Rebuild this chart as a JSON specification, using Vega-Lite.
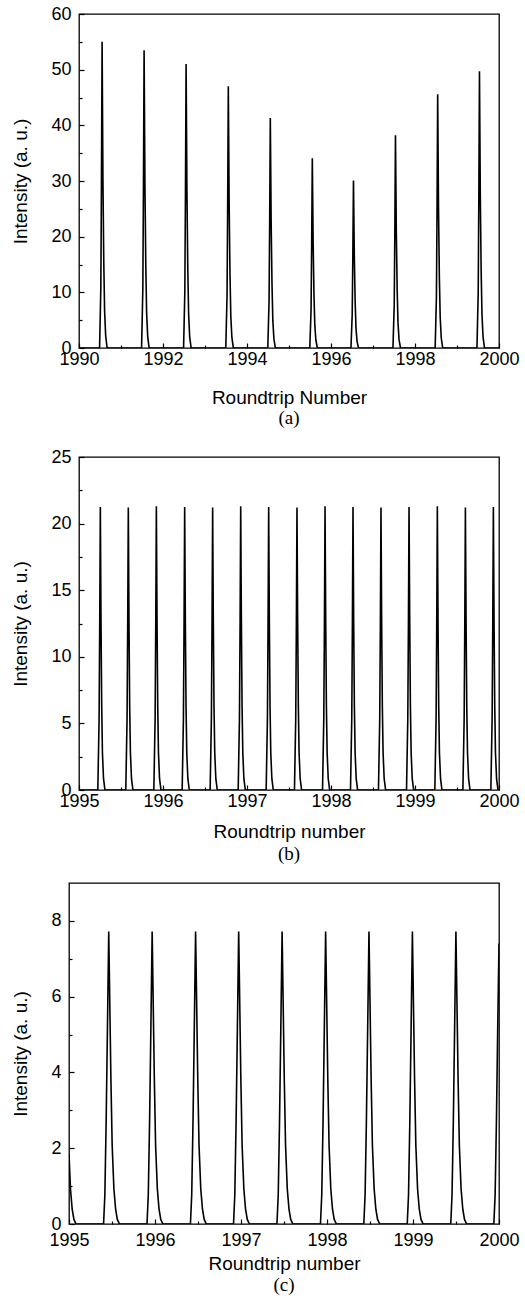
{
  "$schema": "https://vega.github.io/schema/vega-lite/v6.json",
  "padding": {"left": 10, "top": 4, "right": 5, "bottom": 2},
  "background": "white",
  "config": {
    "view": {"stroke": "black", "strokeWidth": 1.3},
    "axis": {
      "grid": false, "domain": false, "tickColor": "black", "tickWidth": 1.2,
      "labelFont": "Liberation Sans", "labelFontSize": 18, "labelColor": "black",
      "titleFont": "Liberation Sans", "titleFontSize": 19, "titleFontWeight": "normal", "titleColor": "black",
      "labelFlush": false, "labelOverlap": false, "format": "d"
    },
    "title": {"font": "Liberation Serif", "fontSize": 19, "fontWeight": "normal", "color": "black", "orient": "bottom", "anchor": "middle"}
  },
  "spacing": 12,
  "datasets": {
    "a": [
      {"x":1990,"y":0},
      {"x":1990.49,"y":0},{"x":1990.52,"y":11},{"x":1990.535,"y":30.25},{"x":1990.55,"y":55},{"x":1990.57,"y":30.25},{"x":1990.59,"y":15.4},{"x":1990.61,"y":6.6},{"x":1990.635,"y":2.2},{"x":1990.67,"y":0},
      {"x":1991.49,"y":0},{"x":1991.52,"y":10.7},{"x":1991.535,"y":29.4},{"x":1991.55,"y":53.5},{"x":1991.57,"y":29.4},{"x":1991.59,"y":15},{"x":1991.61,"y":6.4},{"x":1991.635,"y":2.1},{"x":1991.67,"y":0},
      {"x":1992.49,"y":0},{"x":1992.52,"y":10.2},{"x":1992.535,"y":28.1},{"x":1992.55,"y":51},{"x":1992.57,"y":28.1},{"x":1992.59,"y":14.3},{"x":1992.61,"y":6.1},{"x":1992.635,"y":2},{"x":1992.67,"y":0},
      {"x":1993.495,"y":0},{"x":1993.525,"y":9.4},{"x":1993.54,"y":25.9},{"x":1993.555,"y":47},{"x":1993.575,"y":25.9},{"x":1993.595,"y":13.2},{"x":1993.615,"y":5.6},{"x":1993.64,"y":1.9},{"x":1993.675,"y":0},
      {"x":1994.495,"y":0},{"x":1994.525,"y":8.3},{"x":1994.54,"y":22.7},{"x":1994.555,"y":41.3},{"x":1994.575,"y":22.7},{"x":1994.595,"y":11.6},{"x":1994.615,"y":5},{"x":1994.64,"y":1.7},{"x":1994.675,"y":0},
      {"x":1995.495,"y":0},{"x":1995.525,"y":6.8},{"x":1995.54,"y":18.8},{"x":1995.555,"y":34.1},{"x":1995.575,"y":18.8},{"x":1995.595,"y":9.5},{"x":1995.615,"y":4.1},{"x":1995.64,"y":1.4},{"x":1995.675,"y":0},
      {"x":1996.475,"y":0},{"x":1996.505,"y":6},{"x":1996.52,"y":16.6},{"x":1996.535,"y":30.1},{"x":1996.555,"y":16.6},{"x":1996.575,"y":8.4},{"x":1996.595,"y":3.6},{"x":1996.62,"y":1.2},{"x":1996.655,"y":0},
      {"x":1997.475,"y":0},{"x":1997.505,"y":7.6},{"x":1997.52,"y":21},{"x":1997.535,"y":38.2},{"x":1997.555,"y":21},{"x":1997.575,"y":10.7},{"x":1997.595,"y":4.6},{"x":1997.62,"y":1.5},{"x":1997.655,"y":0},
      {"x":1998.48,"y":0},{"x":1998.51,"y":9.1},{"x":1998.525,"y":25.1},{"x":1998.54,"y":45.6},{"x":1998.56,"y":25.1},{"x":1998.58,"y":12.8},{"x":1998.6,"y":5.5},{"x":1998.625,"y":1.8},{"x":1998.66,"y":0},
      {"x":1999.475,"y":0},{"x":1999.505,"y":9.9},{"x":1999.52,"y":27.3},{"x":1999.535,"y":49.7},{"x":1999.555,"y":27.3},{"x":1999.575,"y":13.9},{"x":1999.595,"y":6},{"x":1999.62,"y":2},{"x":1999.655,"y":0},
      {"x":2000,"y":0}
    ],
    "b": [
      {"x":1995,"y":0},
      {"x":1995.224,"y":0},{"x":1995.239,"y":5.3},{"x":1995.247,"y":12.75},{"x":1995.254,"y":21.25},{"x":1995.262,"y":12.75},{"x":1995.27,"y":6.4},{"x":1995.279,"y":2.8},{"x":1995.292,"y":0.85},{"x":1995.309,"y":0},
      {"x":1995.557,"y":0},{"x":1995.572,"y":5.3},{"x":1995.58,"y":12.75},{"x":1995.587,"y":21.2},{"x":1995.595,"y":12.75},{"x":1995.603,"y":6.4},{"x":1995.612,"y":2.8},{"x":1995.625,"y":0.85},{"x":1995.642,"y":0},
      {"x":1995.891,"y":0},{"x":1995.906,"y":5.3},{"x":1995.914,"y":12.75},{"x":1995.921,"y":21.3},{"x":1995.929,"y":12.75},{"x":1995.937,"y":6.4},{"x":1995.946,"y":2.8},{"x":1995.959,"y":0.85},{"x":1995.976,"y":0},
      {"x":1996.228,"y":0},{"x":1996.243,"y":5.3},{"x":1996.251,"y":12.75},{"x":1996.258,"y":21.25},{"x":1996.266,"y":12.75},{"x":1996.274,"y":6.4},{"x":1996.283,"y":2.8},{"x":1996.296,"y":0.85},{"x":1996.313,"y":0},
      {"x":1996.561,"y":0},{"x":1996.576,"y":5.3},{"x":1996.584,"y":12.75},{"x":1996.591,"y":21.2},{"x":1996.599,"y":12.75},{"x":1996.607,"y":6.4},{"x":1996.616,"y":2.8},{"x":1996.629,"y":0.85},{"x":1996.646,"y":0},
      {"x":1996.895,"y":0},{"x":1996.91,"y":5.3},{"x":1996.918,"y":12.75},{"x":1996.925,"y":21.3},{"x":1996.933,"y":12.75},{"x":1996.941,"y":6.4},{"x":1996.95,"y":2.8},{"x":1996.963,"y":0.85},{"x":1996.98,"y":0},
      {"x":1997.228,"y":0},{"x":1997.243,"y":5.3},{"x":1997.251,"y":12.75},{"x":1997.258,"y":21.25},{"x":1997.266,"y":12.75},{"x":1997.274,"y":6.4},{"x":1997.283,"y":2.8},{"x":1997.296,"y":0.85},{"x":1997.313,"y":0},
      {"x":1997.565,"y":0},{"x":1997.58,"y":5.3},{"x":1997.588,"y":12.75},{"x":1997.595,"y":21.2},{"x":1997.603,"y":12.75},{"x":1997.611,"y":6.4},{"x":1997.62,"y":2.8},{"x":1997.633,"y":0.85},{"x":1997.65,"y":0},
      {"x":1997.899,"y":0},{"x":1997.914,"y":5.3},{"x":1997.922,"y":12.75},{"x":1997.929,"y":21.3},{"x":1997.937,"y":12.75},{"x":1997.945,"y":6.4},{"x":1997.954,"y":2.8},{"x":1997.967,"y":0.85},{"x":1997.984,"y":0},
      {"x":1998.232,"y":0},{"x":1998.247,"y":5.3},{"x":1998.255,"y":12.75},{"x":1998.262,"y":21.25},{"x":1998.27,"y":12.75},{"x":1998.278,"y":6.4},{"x":1998.287,"y":2.8},{"x":1998.3,"y":0.85},{"x":1998.317,"y":0},
      {"x":1998.565,"y":0},{"x":1998.58,"y":5.3},{"x":1998.588,"y":12.75},{"x":1998.595,"y":21.2},{"x":1998.603,"y":12.75},{"x":1998.611,"y":6.4},{"x":1998.62,"y":2.8},{"x":1998.633,"y":0.85},{"x":1998.65,"y":0},
      {"x":1998.899,"y":0},{"x":1998.914,"y":5.3},{"x":1998.922,"y":12.75},{"x":1998.929,"y":21.25},{"x":1998.937,"y":12.75},{"x":1998.945,"y":6.4},{"x":1998.954,"y":2.8},{"x":1998.967,"y":0.85},{"x":1998.984,"y":0},
      {"x":1999.236,"y":0},{"x":1999.251,"y":5.3},{"x":1999.259,"y":12.75},{"x":1999.266,"y":21.3},{"x":1999.274,"y":12.75},{"x":1999.282,"y":6.4},{"x":1999.291,"y":2.8},{"x":1999.304,"y":0.85},{"x":1999.321,"y":0},
      {"x":1999.57,"y":0},{"x":1999.585,"y":5.3},{"x":1999.593,"y":12.75},{"x":1999.6,"y":21.2},{"x":1999.608,"y":12.75},{"x":1999.616,"y":6.4},{"x":1999.625,"y":2.8},{"x":1999.638,"y":0.85},{"x":1999.655,"y":0},
      {"x":1999.903,"y":0},{"x":1999.918,"y":5.3},{"x":1999.926,"y":12.75},{"x":1999.933,"y":21.25},{"x":1999.941,"y":12.75},{"x":1999.949,"y":6.4},{"x":1999.958,"y":2.8},{"x":1999.971,"y":0.85},{"x":1999.988,"y":0},
      {"x":2000,"y":0}
    ],
    "c": [
      {"x":1995,"y":1.85},{"x":1995.017,"y":0.93},{"x":1995.037,"y":0.39},{"x":1995.057,"y":0.12},{"x":1995.082,"y":0},
      {"x":1995.402,"y":0},{"x":1995.417,"y":0.77},{"x":1995.432,"y":2.7},{"x":1995.447,"y":5.17},{"x":1995.462,"y":7.72},{"x":1995.472,"y":6.18},{"x":1995.487,"y":3.86},{"x":1995.502,"y":2.08},{"x":1995.522,"y":0.93},{"x":1995.542,"y":0.39},{"x":1995.562,"y":0.12},{"x":1995.587,"y":0},
      {"x":1995.907,"y":0},{"x":1995.922,"y":0.77},{"x":1995.937,"y":2.7},{"x":1995.952,"y":5.17},{"x":1995.967,"y":7.72},{"x":1995.977,"y":6.18},{"x":1995.992,"y":3.86},{"x":1996.007,"y":2.08},{"x":1996.027,"y":0.93},{"x":1996.047,"y":0.39},{"x":1996.067,"y":0.12},{"x":1996.092,"y":0},
      {"x":1996.412,"y":0},{"x":1996.427,"y":0.77},{"x":1996.442,"y":2.7},{"x":1996.457,"y":5.17},{"x":1996.472,"y":7.72},{"x":1996.482,"y":6.18},{"x":1996.497,"y":3.86},{"x":1996.512,"y":2.08},{"x":1996.532,"y":0.93},{"x":1996.552,"y":0.39},{"x":1996.572,"y":0.12},{"x":1996.597,"y":0},
      {"x":1996.913,"y":0},{"x":1996.928,"y":0.77},{"x":1996.943,"y":2.7},{"x":1996.958,"y":5.17},{"x":1996.973,"y":7.72},{"x":1996.983,"y":6.18},{"x":1996.998,"y":3.86},{"x":1997.013,"y":2.08},{"x":1997.033,"y":0.93},{"x":1997.053,"y":0.39},{"x":1997.073,"y":0.12},{"x":1997.098,"y":0},
      {"x":1997.418,"y":0},{"x":1997.433,"y":0.77},{"x":1997.448,"y":2.7},{"x":1997.463,"y":5.17},{"x":1997.478,"y":7.72},{"x":1997.488,"y":6.18},{"x":1997.503,"y":3.86},{"x":1997.518,"y":2.08},{"x":1997.538,"y":0.93},{"x":1997.558,"y":0.39},{"x":1997.578,"y":0.12},{"x":1997.603,"y":0},
      {"x":1997.924,"y":0},{"x":1997.939,"y":0.77},{"x":1997.954,"y":2.7},{"x":1997.969,"y":5.17},{"x":1997.984,"y":7.72},{"x":1997.994,"y":6.18},{"x":1998.009,"y":3.86},{"x":1998.024,"y":2.08},{"x":1998.044,"y":0.93},{"x":1998.064,"y":0.39},{"x":1998.084,"y":0.12},{"x":1998.109,"y":0},
      {"x":1998.428,"y":0},{"x":1998.443,"y":0.77},{"x":1998.458,"y":2.7},{"x":1998.473,"y":5.17},{"x":1998.488,"y":7.72},{"x":1998.498,"y":6.18},{"x":1998.513,"y":3.86},{"x":1998.528,"y":2.08},{"x":1998.548,"y":0.93},{"x":1998.568,"y":0.39},{"x":1998.588,"y":0.12},{"x":1998.613,"y":0},
      {"x":1998.933,"y":0},{"x":1998.948,"y":0.77},{"x":1998.963,"y":2.7},{"x":1998.978,"y":5.17},{"x":1998.993,"y":7.72},{"x":1999.003,"y":6.18},{"x":1999.018,"y":3.86},{"x":1999.033,"y":2.08},{"x":1999.053,"y":0.93},{"x":1999.073,"y":0.39},{"x":1999.093,"y":0.12},{"x":1999.118,"y":0},
      {"x":1999.439,"y":0},{"x":1999.454,"y":0.77},{"x":1999.469,"y":2.7},{"x":1999.484,"y":5.17},{"x":1999.499,"y":7.72},{"x":1999.509,"y":6.18},{"x":1999.524,"y":3.86},{"x":1999.539,"y":2.08},{"x":1999.559,"y":0.93},{"x":1999.579,"y":0.39},{"x":1999.599,"y":0.12},{"x":1999.624,"y":0},
      {"x":1999.94,"y":0},{"x":1999.955,"y":0.77},{"x":1999.97,"y":2.7},{"x":1999.985,"y":5.17},{"x":2000,"y":7.4}
    ],
    "blank": [{"k": 0}]
  },
  "vconcat": [
    {
      "spacing": 18,
      "vconcat": [
        {
          "spacing": 0,
          "hconcat": [
            {"width": 1, "height": 1, "data": {"name": "blank"}, "mark": {"type": "text", "text": ""}, "view": {"stroke": null}},
            {
              "width": 420, "height": 334,
              "title": {"text": "(a)", "offset": 2},
              "data": {"name": "a"},
              "mark": {"type": "line", "color": "black", "strokeWidth": 1.6, "clip": true},
              "encoding": {
                "x": {"field": "x", "type": "quantitative", "scale": {"domain": [1990, 2000], "nice": false, "zero": false},
                      "axis": {"values": [1990,1991,1992,1993,1994,1995,1996,1997,1998,1999,2000],
                               "labelExpr": "datum.value % 2 === 0 ? datum.label : ''",
                               "tickSize": {"condition": {"test": "datum.value % 2 !== 0", "value": -3}, "value": -5},
                               "labelPadding": 7, "title": "Roundtrip Number", "titlePadding": 18}},
                "y": {"field": "y", "type": "quantitative", "scale": {"domain": [0, 60], "nice": false},
                      "axis": {"values": [0,5,10,15,20,25,30,35,40,45,50,55,60],
                               "labelExpr": "datum.value % 10 === 0 ? datum.label : ''",
                               "tickSize": {"condition": {"test": "datum.value % 10 !== 0", "value": -3}, "value": -5},
                               "labelPadding": 13, "title": "Intensity (a. u.)", "titlePadding": 20}}
              }
            }
          ]
        },
        {
          "spacing": 0,
          "hconcat": [
            {"width": 1, "height": 1, "data": {"name": "blank"}, "mark": {"type": "text", "text": ""}, "view": {"stroke": null}},
            {
              "width": 420, "height": 333,
              "title": {"text": "(b)", "offset": 4},
              "data": {"name": "b"},
              "mark": {"type": "line", "color": "black", "strokeWidth": 1.6, "clip": true},
              "encoding": {
                "x": {"field": "x", "type": "quantitative", "scale": {"domain": [1995, 2000], "nice": false, "zero": false},
                      "axis": {"values": [1995,1995.5,1996,1996.5,1997,1997.5,1998,1998.5,1999,1999.5,2000],
                               "labelExpr": "datum.value % 1 === 0 ? datum.label : ''",
                               "tickSize": {"condition": {"test": "datum.value % 1 !== 0", "value": -3}, "value": -5},
                               "labelPadding": 7, "title": "Roundtrip number", "titlePadding": 10}},
                "y": {"field": "y", "type": "quantitative", "scale": {"domain": [0, 25], "nice": false},
                      "axis": {"values": [0,2.5,5,7.5,10,12.5,15,17.5,20,22.5,25],
                               "labelExpr": "datum.value % 5 === 0 ? datum.label : ''",
                               "tickSize": {"condition": {"test": "datum.value % 5 !== 0", "value": -3}, "value": -5},
                               "labelPadding": 13, "title": "Intensity (a. u.)", "titlePadding": 20}}
              }
            }
          ]
        }
      ]
    },
    {
      "spacing": 0,
      "hconcat": [
        {"width": 1, "height": 1, "data": {"name": "blank"}, "mark": {"type": "text", "text": ""}, "view": {"stroke": null}},
        {
          "width": 430, "height": 341,
          "title": {"text": "(c)", "offset": 3},
          "data": {"name": "c"},
          "mark": {"type": "line", "color": "black", "strokeWidth": 1.6, "clip": true},
          "encoding": {
            "x": {"field": "x", "type": "quantitative", "scale": {"domain": [1995, 2000], "nice": false, "zero": false},
                  "axis": {"values": [1995,1995.5,1996,1996.5,1997,1997.5,1998,1998.5,1999,1999.5,2000],
                           "labelExpr": "datum.value % 1 === 0 ? datum.label : ''",
                           "tickSize": {"condition": {"test": "datum.value % 1 !== 0", "value": -3}, "value": -5},
                           "labelPadding": 12, "title": "Roundtrip number", "titlePadding": 3}},
            "y": {"field": "y", "type": "quantitative", "scale": {"domain": [0, 9], "nice": false},
                  "axis": {"values": [0,1,2,3,4,5,6,7,8],
                           "labelExpr": "datum.value % 2 === 0 ? datum.label : ''",
                           "tickSize": {"condition": {"test": "datum.value % 2 !== 0", "value": -3}, "value": -5},
                           "labelPadding": 13, "title": "Intensity (a. u.)", "titlePadding": 20}}
          }
        }
      ]
    }
  ]
}
